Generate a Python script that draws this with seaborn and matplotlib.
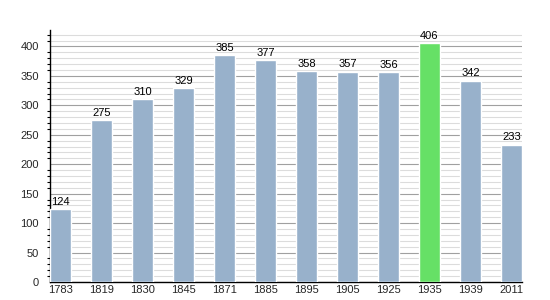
import matplotlib
matplotlib.use("Agg")
import matplotlib.pyplot as plt
import seaborn as sns
import pandas as pd
from matplotlib.ticker import MultipleLocator

years = ["1783", "1819", "1830", "1845", "1871", "1885", "1895", "1905", "1925", "1935", "1939", "2011"]
population = [124, 275, 310, 329, 385, 377, 358, 357, 356, 406, 342, 233]
highlight_year = "1935"

df = pd.DataFrame({"year": years, "pop": population})
colors = ["#66e066" if y == highlight_year else "#98b1cb" for y in years]

sns.set_style("white")
plt.rcParams["font.family"] = ["Liberation Sans", "DejaVu Sans"]

fig = plt.figure(figsize=(5.5, 3.0), dpi=100)
ax = fig.add_axes([0.0909, 0.06, 0.858, 0.84])

sns.barplot(data=df, x="year", y="pop", hue="year", palette=colors, legend=False,
            width=0.51, ax=ax, saturation=1, zorder=3)

ax.set_xlim(-0.255, 11.255)
ax.set_ylim(0, 428)
ax.yaxis.set_major_locator(MultipleLocator(50))
ax.yaxis.set_minor_locator(MultipleLocator(10))
ax.grid(which="major", axis="y", color="#a0a0a0", linewidth=0.8, zorder=0)
ax.grid(which="minor", axis="y", color="#dcdcdc", linewidth=0.8, zorder=0)
ax.set_axisbelow(True)

for s in ["top", "right"]:
    ax.spines[s].set_visible(False)
for s in ["left", "bottom"]:
    ax.spines[s].set_color("black")
    ax.spines[s].set_linewidth(1.0)

ax.tick_params(axis="y", which="major", length=5, width=0.8, color="black", labelsize=8, pad=3, direction="out")
ax.tick_params(axis="y", which="minor", length=2.5, width=0.8, color="black", left=True)
ax.tick_params(axis="x", length=0, labelsize=8, pad=2)
ax.set_xlabel("")
ax.set_ylabel("")

for i, v in enumerate(population):
    ax.text(i, v + 4, str(v), ha="center", va="bottom", fontsize=8, color="black")

fig.savefig("out.png", dpi=100)
